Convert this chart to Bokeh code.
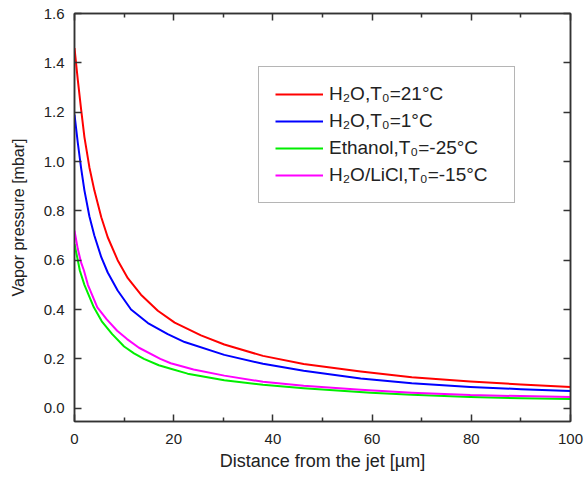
from bokeh.plotting import figure
from bokeh.models import (Range1d, LinearAxis, Legend, LegendItem, FixedTicker,
                          NumeralTickFormatter, CustomLabelingPolicy)
from bokeh.embed import file_html
from bokeh.resources import INLINE

# ---- data ----
x_h2o_21 = [0, 0.67, 1.34, 2.0, 3.0, 4.0, 5.4, 6.7, 8.7, 10.75, 13.4, 16.8, 20.2, 25.5, 30.2, 38, 46.2, 57.7, 68, 79.8, 90, 100]
y_h2o_21 = [1.46, 1.33, 1.21, 1.099, 0.977, 0.883, 0.774, 0.693, 0.600, 0.527, 0.460, 0.395, 0.347, 0.295, 0.258, 0.212, 0.179, 0.149, 0.125, 0.108, 0.096, 0.086]

x_h2o_1 = [0, 0.67, 1.34, 2.0, 3.0, 4.0, 5.4, 6.7, 8.7, 11.4, 14.8, 18.8, 22.2, 30.2, 38, 46.2, 57.7, 68, 79.8, 90, 100]
y_h2o_1 = [1.19, 1.075, 0.972, 0.883, 0.778, 0.700, 0.612, 0.550, 0.477, 0.400, 0.345, 0.300, 0.268, 0.216, 0.180, 0.152, 0.120, 0.101, 0.086, 0.077, 0.070]

x_ethanol = [0, 0.67, 1.07, 2.0, 3.9, 5.5, 7.6, 10, 12, 14, 17, 19.4, 22.8, 30.2, 38, 46.2, 59.7, 68, 79.8, 90, 100]
y_ethanol = [0.665, 0.60, 0.558, 0.50, 0.409, 0.352, 0.300, 0.250, 0.222, 0.200, 0.174, 0.160, 0.140, 0.113, 0.095, 0.081, 0.063, 0.054, 0.045, 0.040, 0.037]

x_licl = [0, 0.67, 1.34, 1.9, 2.7, 4.6, 6.5, 8.6, 10.6, 13, 17.3, 19.4, 24, 30.2, 38, 46.2, 57.7, 68, 79.8, 90, 100]
y_licl = [0.72, 0.645, 0.59, 0.558, 0.50, 0.409, 0.360, 0.314, 0.280, 0.245, 0.200, 0.182, 0.157, 0.132, 0.107, 0.091, 0.075, 0.063, 0.053, 0.049, 0.045]

series_labels = ["H\u2082O,T\u2080=21\u00b0C", "H\u2082O,T\u2080=1\u00b0C",
                 "Ethanol,T\u2080=-25\u00b0C", "H\u2082O/LiCl,T\u2080=-15\u00b0C"]
series_colors = ["#ff0000", "#0000ff", "#00ee00", "#ff00ff"]

x_ticks = [0, 20, 40, 60, 80, 100]
x_minor_ticks = [10, 30, 50, 70, 90]
y_ticks = [0.0, 0.2, 0.4, 0.6, 0.8, 1.0, 1.2, 1.4, 1.6]

x_label = "Distance from the jet [\u00b5m]"
y_label = "Vapor pressure [mbar]"

FONT = "Liberation Sans"
AX = "#333333"

p = figure(width=587, height=480, output_backend="svg", toolbar_location=None,
           x_range=Range1d(0, 100), y_range=Range1d(-0.054, 1.6),
           min_border_left=74, min_border_right=17, min_border_top=13, min_border_bottom=59,
           background_fill_color="white", border_fill_color="white")
p.xgrid.visible = False
p.ygrid.visible = False
p.outline_line_color = AX
p.outline_line_width = 1.5

xt = FixedTicker(ticks=x_ticks, minor_ticks=x_minor_ticks)
yt = FixedTicker(ticks=y_ticks)


def style_axis(ax, ticker, minor=True):
    ax.ticker = ticker
    ax.axis_line_color = AX
    ax.axis_line_width = 1.5
    ax.major_tick_line_color = AX
    ax.major_tick_line_width = 1.5
    ax.major_tick_in = 7
    ax.major_tick_out = 0
    if minor:
        ax.minor_tick_line_color = AX
        ax.minor_tick_line_width = 1.5
        ax.minor_tick_in = 4
        ax.minor_tick_out = 0
    else:
        ax.minor_tick_line_color = None
    ax.major_label_text_font = FONT
    ax.major_label_text_font_size = "15px"
    ax.major_label_text_color = "#222222"
    ax.axis_label_text_font = FONT
    ax.axis_label_text_font_style = "normal"
    ax.axis_label_text_color = "#222222"


style_axis(p.xaxis[0], xt, True)
p.xaxis[0].major_label_standoff = 12
p.xaxis[0].axis_label = x_label
p.xaxis[0].axis_label_text_font_size = "18px"
p.xaxis[0].axis_label_standoff = 4

style_axis(p.yaxis[0], yt, False)
p.yaxis[0].formatter = NumeralTickFormatter(format="0.0")
p.yaxis[0].major_label_standoff = 10
p.yaxis[0].axis_label = y_label
p.yaxis[0].axis_label_text_font_size = "16px"
p.yaxis[0].axis_label_standoff = 14

top = LinearAxis()
style_axis(top, xt, True)
top.major_label_text_font_size = "1px"
top.major_label_standoff = 0
top.major_label_policy = CustomLabelingPolicy(code="return new Set()")
p.add_layout(top, "above")

right = LinearAxis()
style_axis(right, yt, False)
right.major_label_text_font_size = "1px"
right.major_label_standoff = 0
right.major_label_policy = CustomLabelingPolicy(code="return new Set()")
p.add_layout(right, "right")

xs = [x_h2o_21, x_h2o_1, x_ethanol, x_licl]
ys = [y_h2o_21, y_h2o_1, y_ethanol, y_licl]
renderers = []
for xv, yv, c in zip(xs, ys, series_colors):
    renderers.append(p.line(xv, yv, line_color=c, line_width=2, line_join="round"))

legend = Legend(items=[LegendItem(label=l, renderers=[r]) for l, r in zip(series_labels, renderers)],
                location=(184, 218), padding=16, margin=0, spacing=5,
                glyph_width=48, glyph_height=20, label_height=20, label_standoff=6,
                label_width=169,
                label_text_font=FONT, label_text_font_size="19px", label_text_color="#222222",
                border_line_color="#6b6b6b", border_line_width=1.5,
                background_fill_color="white", background_fill_alpha=1)
p.add_layout(legend)

open("out.html", "w").write(file_html(p, INLINE))
